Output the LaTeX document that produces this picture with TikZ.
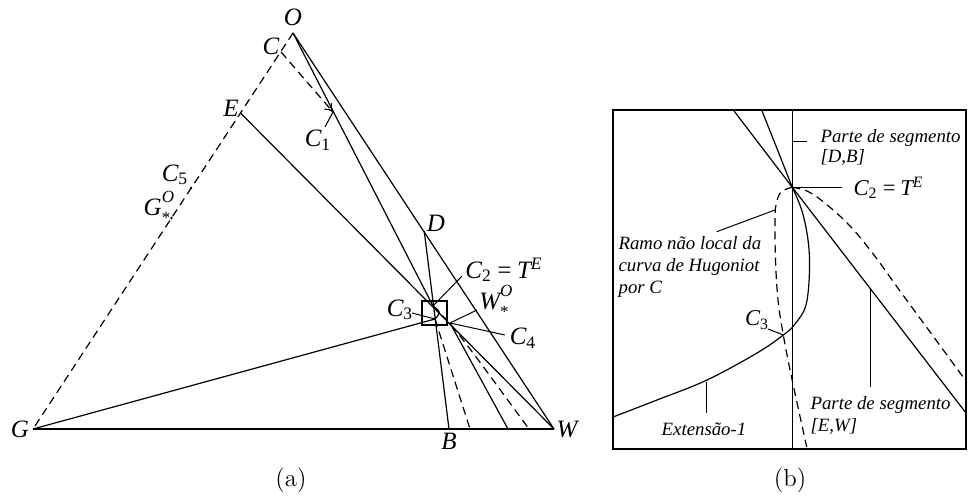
\documentclass[tikz,border=0pt]{standalone}
\usepackage{fontspec}
\usepackage{graphicx}
\newfontfamily\tms{Liberation Serif}
\usetikzlibrary{arrows.meta}
\newcommand{\sbs}[1]{\textsubscript{\upshape #1}}
\newcommand{\sps}[1]{\textsuperscript{#1}}
\newcommand{\subsup}[2]{\makebox[0pt][l]{\raisebox{0.55em}{\scalebox{0.68}{#2}}}\raisebox{-0.3em}{\scalebox{0.68}{\upshape #1}}}
\begin{document}
\begin{tikzpicture}[x=0.5pt,y=-0.5pt,line width=0.6pt,
  dsh/.style={dash pattern=on 4pt off 2.6pt},
  ptr/.style={line width=0.5pt},
  lbl/.style={font=\tms\fontsize{12.5}{14}\selectfont\itshape,inner sep=0pt},
  blbl/.style={font=\tms\fontsize{11.3}{13}\selectfont\itshape,inner sep=0pt},
  btxt/.style={font=\tms\fontsize{9.4}{11}\selectfont\itshape,inner sep=0pt,align=left},
  figcap/.style={font=\fontsize{12.4}{14}\selectfont,inner sep=0pt}]
\useasboundingbox (0,0) rectangle (969,503);
% ---------- panel (a) points
\coordinate (O) at (293,33);
\coordinate (G) at (33,429);
\coordinate (W) at (554,429);
\coordinate (C) at (281,52);
\coordinate (E) at (240.5,113);
\coordinate (C1) at (333,112);
\coordinate (C2) at (433,306);
\coordinate (C3) at (435,319);
\coordinate (D) at (424.2,231);
\coordinate (B) at (449,429);
\coordinate (Ws) at (450,323);
\coordinate (C5) at (191,188);
\coordinate (Gs) at (171.5,218);
\coordinate (b1) at (470,429);
\coordinate (b2) at (508,429);
\coordinate (b3) at (529,429);
% ---------- panel (a) lines
\draw[dsh] (O) -- (G);
\draw (G) -- (W);
\draw (O) -- (W);
\draw (O) -- (C2);
\draw (E) -- (W);
\draw (D) -- (B);
\draw (G) -- (C3);
\draw[dsh] (C3) -- (b1);
\draw (Ws) -- (b2);
\draw[dsh] (C2) .. controls (455,328) .. (b3);
\draw (C2) .. controls (441,312) .. (C3);
\draw[dsh,-{To[length=4pt,width=5pt]}] (C) -- (C1);
\draw (422,301) rectangle (447,325);
\fill (C5) circle (1.3);
\fill (Gs) circle (1.3);
% ---------- panel (a) labels
\node[lbl] (lO) at (293,17) {O};
\node[lbl] (lC) at (271,46) {C};
\node[lbl] (lE) at (231,108) {E};
\node[lbl] (lC1) at (318,140) {C\sbs{1}};
\node[lbl] (lD) at (436,223) {D};
\node[lbl] (lC2) at (504,270) {C\sbs{2}\,=\,T\sps{E}};
\node[lbl] (lWs) at (494,301) {W\subsup{*}{O}};
\node[lbl] (lC4) at (523,338) {C\sbs{4}};
\node[lbl] (lC3) at (400,310) {C\sbs{3}};
\node[lbl] (lG) at (20,429) {G};
\node[lbl] (lB) at (449,441) {B};
\node[lbl] (lW) at (567,429) {W};
\node[lbl] (lC5) at (175,175) {C\sbs{5}};
\node[lbl] (lGs) at (157,207) {G\subsup{*}{O}};
\coordinate (pC1) at (325,127);
\coordinate (pC2) at (462,276);
\coordinate (pWs) at (477,310);
\coordinate (pC4) at (505,335);
\coordinate (pC3) at (412,313);
\draw[ptr] (pC1) -- (C1);
\draw[ptr] (pC2) -- (C2);
\draw[ptr] (pWs) -- (Ws);
\draw[ptr] (pC4) -- (Ws);
\draw[ptr] (pC3) -- (C3);
\node[figcap] (capa) at (291,480) {(a)};
% ---------- panel (b)
\draw (613,110) rectangle (966,449);
\coordinate (T) at (792.3,187.3);
\coordinate (V1) at (792.3,110);
\coordinate (V2) at (792.3,449);
\coordinate (La1) at (733.3,110);
\coordinate (La2) at (966,413);
\coordinate (Lb1) at (761.7,110);
\coordinate (K3) at (783.3,335);
\draw (V1) -- (V2);
\draw (La1) -- (T) -- (La2);
\draw (Lb1) -- (T);
\draw plot[smooth,tension=0.6] coordinates {(T) (802,211) (808,240) (809.5,270) (806,305) (795,324) (K3) (757,353) (707,380) (657,400) (613,417)};
\draw[dsh] plot[smooth,tension=0.6] coordinates {(T) (781,192) (776,205) (775,222) (775.5,260) (778,300) (K3) (791.5,377) (806.7,447)};
\draw[dsh] plot[smooth,tension=0.6] coordinates {(T) (808,191.5) (826,204) (850,226) (874,255) (900,291) (933,336) (966,381)};
% pointers (b)
\coordinate (pDB1) at (792.3,141);
\coordinate (pDB2) at (806.7,141);
\coordinate (pT) at (841.7,187.3);
\coordinate (pR1) at (716.7,231.7);
\coordinate (pR2) at (775,210);
\coordinate (pK1) at (768,329);
\coordinate (pX1) at (706.7,381.7);
\coordinate (pX2) at (706.7,413.3);
\coordinate (pEW1) at (870,288);
\coordinate (pEW2) at (870,387);
\draw[ptr] (pDB1) -- (pDB2);
\draw[ptr] (T) -- (pT);
\draw[ptr] (pR1) -- (pR2);
\draw[ptr] (pK1) -- (K3);
\draw[ptr] (pX1) -- (pX2);
\draw[ptr] (pEW1) -- (pEW2);
\node[btxt,anchor=north west] (tDB) at (820,129) {Parte de segmento\\[-1pt][D,B]};
\node[blbl,anchor=west] (tC2) at (853,188) {C\sbs{2}\,=\,T\sps{E}};
\node[btxt,anchor=north west] (tR) at (618,236) {Ramo não local da\\curva de Hugoniot\\por C};
\node[blbl] (tC3) at (757,320) {C\sbs{3}};
\node[btxt] (tX) at (704,429) {Extensão-1};
\node[btxt,anchor=north west] (tEW) at (810,396) {Parte de segmento\\{}[E,W]};
\node[figcap] (capb) at (790,480) {(b)};
\end{tikzpicture}
\end{document}
